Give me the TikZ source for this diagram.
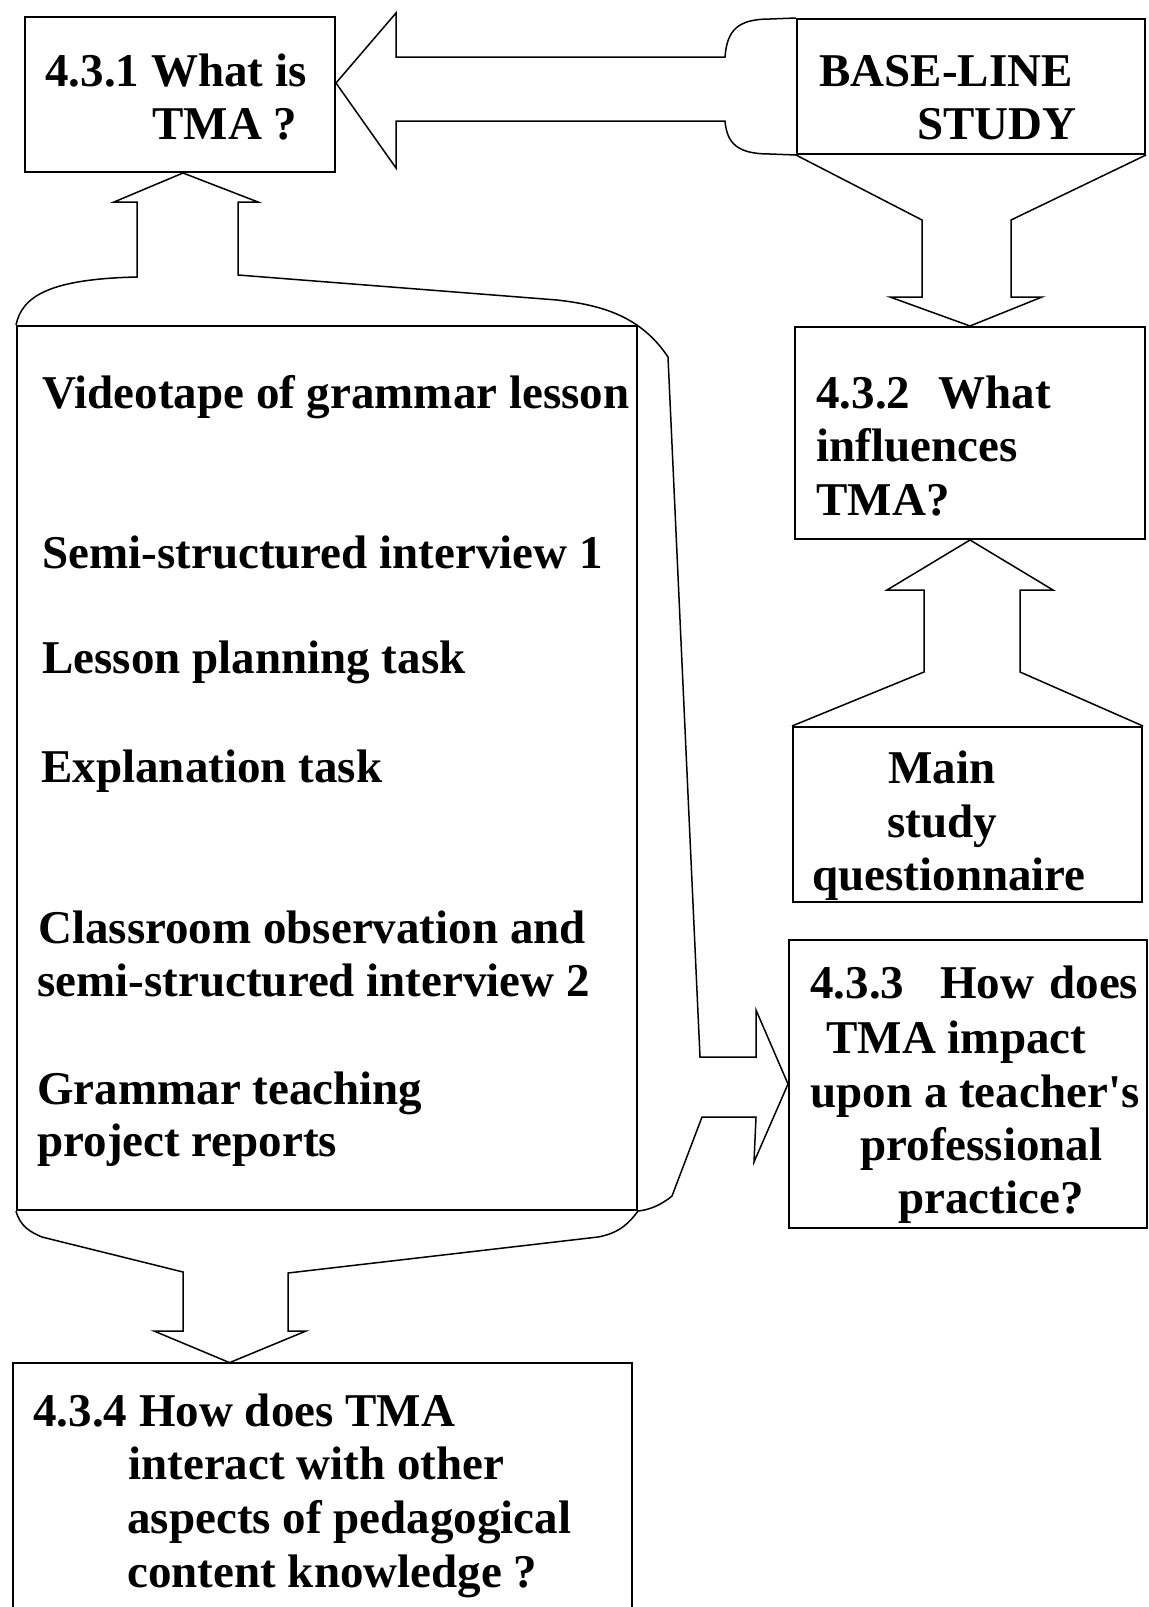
\documentclass[tikz,border=0pt]{standalone}
\usepackage{fontspec}
\setmainfont{Liberation Serif}[Ligatures=TeXOff]
\usetikzlibrary{fit,calc}
\begin{document}
\begin{tikzpicture}[x=0.5pt,y=-0.5pt,
  box/.style={draw, line width=1pt, inner sep=0pt, rectangle},
  lbl/.style={anchor=base west, inner sep=0pt, font=\fontsize{23.5}{27}\selectfont\bfseries},
  blockarrow/.style={draw, line width=0.75pt, line join=miter}]
\useasboundingbox (0,0) rectangle (1149,1607);

% boxes
\node (b431) [box, fit={(25,17)(335,172)}] {};
\node (base) [box, fit={(797,19)(1145,154)}] {};
\node (b432) [box, fit={(795,327)(1145,539)}] {};
\node (main) [box, fit={(793,727)(1142,902)}] {};
\node (b433) [box, fit={(789,940)(1147,1228)}] {};
\node (big)  [box, fit={(17,326)(637,1210)}] {};
\node (b434) [inner sep=0pt, fit={(13,1363)(632,1607)}] {};
\draw[line width=1pt] (b434.south west) -- (b434.north west) -- (b434.north east) -- (b434.south east);

% labels
\node[lbl] (t431a) at (45,86) {4.3.1 What is};
\node[lbl] (t431b) at (152,139) {TMA ?};
\node[lbl] (tba) at (819,86) {BASE-LINE};
\node[lbl] (tbb) at (917,139) {STUDY};
\node[lbl] (t432a) at (816,408) {4.3.2\hspace*{14pt}What};
\node[lbl] (t432b) at (816,461) {influences};
\node[lbl] (t432c) at (816,515) {TMA?};
\node[lbl] (tma) at (888,783) {Main};
\node[lbl] (tmb) at (887,837) {study};
\node[lbl] (tmc) at (812,890) {questionnaire};
\node[lbl] (t433a) at (810,998) {4.3.3\hspace*{18pt}How\hspace*{7.5pt}does};
\node[lbl] (t433b) at (826,1053) {TMA impact};
\node[lbl] (t433c) at (810,1107) {upon a teacher's};
\node[lbl] (t433d) at (860,1160) {professional};
\node[lbl] (t433e) at (898,1213) {practice?};
\node[lbl] (t434a) at (33,1426) {4.3.4 How does TMA};
\node[lbl] (t434b) at (128,1479) {interact with other};
\node[lbl] (t434c) at (127,1533) {aspects of pedagogical};
\node[lbl] (t434d) at (127,1587) {content knowledge ?};

\node[lbl] (m1) at (42,408) {Videotape of grammar lesson};
\node[lbl] (m2) at (42,568) {Semi-structured interview 1};
\node[lbl] (m3) at (42,673) {Lesson planning task};
\node[lbl] (m4) at (41,782) {Explanation task};
\node[lbl] (m5) at (38,943) {Classroom observation and};
\node[lbl] (m6) at (37,996) {semi-structured interview 2};
\node[lbl] (m7) at (37,1104) {Grammar teaching};
\node[lbl] (m8) at (37,1156) {project reports};

% block arrow: base-line study -> 4.3.1
\draw[blockarrow] (base.north west) -- (770,19)
  .. controls (738,19) and (727,30) .. (725,57) -- (396,57) -- (396,13)
  -- ($(b431.east)+(0,-11.5)$) -- (396,168) -- (396,121) -- (725,121)
  .. controls (727,144) and (738,154) .. (770,154) -- (base.south west);

% block arrow: base-line study -> 4.3.2
\draw[blockarrow] (base.south west) -- (922,220) -- (922,297) -- (890,297)
  -- (b432.north) -- (1042,297) -- (1011,297) -- (1011,220) -- (base.south east);

% block arrow: main study questionnaire -> 4.3.2
\draw[blockarrow] (main.north west) -- (924,672) -- (924,590) -- (887,590)
  -- (b432.south) -- (1053,590) -- (1020,590) -- (1020,672) -- (main.north east);

% block arrows: data sources -> 4.3.1 and -> 4.3.3
\draw[blockarrow] (big.north west) .. controls (22,296) and (50,279) .. (137,277)
  -- (137,202) -- (114,202) -- ($(b431.south)+(3,0)$) -- (258,202) -- (238,202)
  -- (238,275) -- (557,300) .. controls (600,305) and (640,315) .. (668,357)
  -- (700,1057) -- (756,1057) -- (756,1010) -- (b433.west) -- (754,1162)
  -- (756,1117) -- (702,1117) -- (672,1196)
  .. controls (660,1206) and (648,1210) .. (big.south east);

% block arrow: data sources -> 4.3.4
\draw[blockarrow] (big.south west) .. controls (20,1226) and (30,1232) .. (42,1237)
  -- (183,1272) -- (183,1331) -- (154,1331) -- ($(b434.north west)+(217,0)$)
  -- (306,1331) -- (288,1331) -- (288,1273) -- (598,1237)
  .. controls (620,1233) and (630,1222) .. (big.south east);
\end{tikzpicture}
\end{document}
